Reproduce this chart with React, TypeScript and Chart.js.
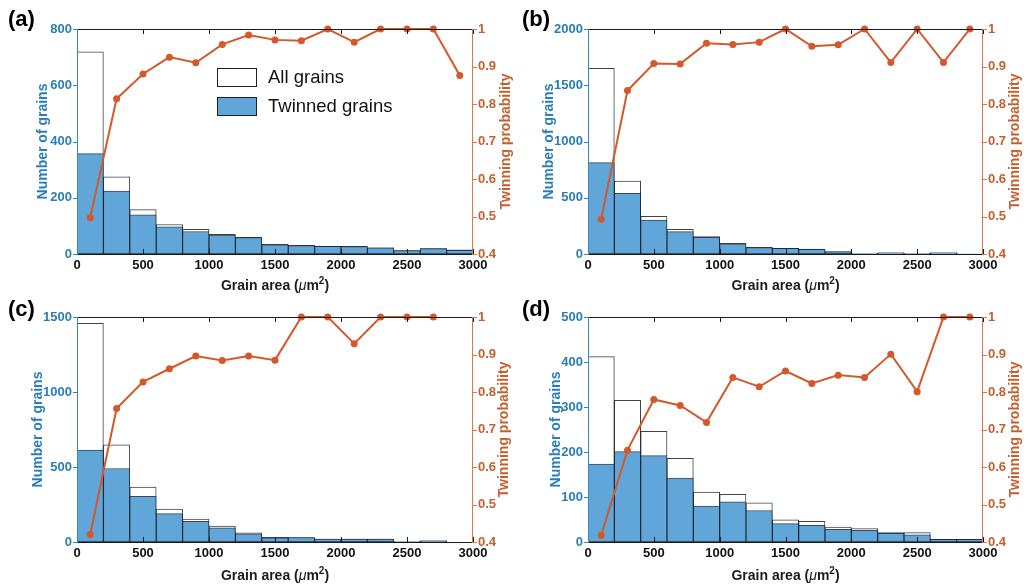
import React, { useEffect, useRef } from "react";
import { Chart, registerables } from "chart.js";

Chart.register(...registerables);
Chart.defaults.font.family = "'Liberation Sans', Arial, sans-serif";

// ---------- data ----------
const BIN_CENTERS = [100, 300, 500, 700, 900, 1100, 1300, 1500, 1700, 1900, 2100, 2300, 2500, 2700, 2900];

const A_ALL = [719, 274, 158, 105, 88, 70, 59, 34, 31, 27, 27, 22, 12, 19, 15];
const A_TWIN = [357, 224, 139, 97, 80, 67, 58, 33, 30, 27, 26, 22, 12, 19, 13];
const A_PROB = [0.497, 0.814, 0.88, 0.925, 0.91, 0.959, 0.984, 0.971, 0.969, 1, 0.965, 1, 1, 1, 0.876];

const B_ALL = [1650, 649, 335, 219, 154, 95, 59, 50, 44, 21, 3, 11, 3, 11, 2];
const B_TWIN = [812, 539, 302, 199, 148, 91, 57, 50, 42, 20, 3, 10, 3, 10, 2];
const B_PROB = [0.493, 0.836, 0.908, 0.907, 0.962, 0.959, 0.965, 1, 0.954, 0.958, 1, 0.911, 1, 0.911, 1];

const C_ALL = [1458, 647, 366, 219, 153, 106, 61, 31, 30, 19, 20, 19, 2, 7, 0];
const C_TWIN = [612, 490, 304, 189, 137, 94, 55, 27, 30, 19, 19, 19, 2, 7, 0];
const C_PROB = [0.42, 0.756, 0.827, 0.862, 0.896, 0.884, 0.896, 0.885, 1, 1, 0.929, 1, 1, 1, null];

const D_ALL = [412, 315, 246, 186, 111, 106, 87, 49, 46, 33, 30, 21, 21, 6, 6];
const D_TWIN = [173, 201, 192, 142, 80, 89, 70, 41, 37, 28, 26, 19, 16, 6, 6];
const D_PROB = [0.418, 0.645, 0.78, 0.764, 0.719, 0.839, 0.814, 0.856, 0.823, 0.845, 0.839, 0.901, 0.801, 1, 1];

const LEFT_MAX = [800, 2000, 1500, 500];
const LEFT_STEP = [200, 500, 500, 100];
const PANEL_LABELS = ["(a)", "(b)", "(c)", "(d)"];
const LEGEND_LABELS = ["All grains", "Twinned grains"];
const X_TITLE_PARTS = ["Grain area (", "\u03bc", "m", "2", ")"];
const LEFT_TITLE = "Number of grains";
const RIGHT_TITLE = "Twinning probability";

// ---------- styles ----------
const FONT = "'Liberation Sans', Arial, sans-serif";
const BLUE_TXT = "#2a7db6";
const BLUE_AXIS = "#3a86bb";
const ORANGE = "#d4582a";
const ORANGE_TXT = "#c4602e";
const ORANGE_AXIS = "#d27a52";
const BAR_BLUE = "rgb(96,166,216)";
const BAR_EDGE = "rgba(25,40,60,0.85)";
const ALL_EDGE = "rgba(20,20,20,0.8)";

type Layout = {
  ox: number; oy: number; w: number; h: number;
  l: number; r: number; t: number; b: number;
  leftTitleX: number; rightTitleX: number; bottomTitleY: number;
  labelX: number; labelY: number; legend: boolean;
};

const LAYOUTS: Layout[] = [
  { ox: 0, oy: 0, w: 520, h: 300, l: 77, r: 473, t: 29, b: 254, leftTitleX: 43, rightTitleX: 506, bottomTitleY: 285, labelX: 8, labelY: 20, legend: true },
  { ox: 510, oy: 0, w: 516, h: 300, l: 78, r: 473, t: 29, b: 254, leftTitleX: 39, rightTitleX: 505, bottomTitleY: 285, labelX: 12, labelY: 20, legend: false },
  { ox: 0, oy: 290, w: 520, h: 298, l: 77, r: 473, t: 27, b: 252, leftTitleX: 38, rightTitleX: 504, bottomTitleY: 285, labelX: 8, labelY: 20, legend: false },
  { ox: 510, oy: 290, w: 516, h: 298, l: 78, r: 473, t: 27, b: 252, leftTitleX: 46, rightTitleX: 505, bottomTitleY: 285, labelX: 12, labelY: 20, legend: false },
];

const SERIES = [
  { all: A_ALL, twin: A_TWIN, prob: A_PROB },
  { all: B_ALL, twin: B_TWIN, prob: B_PROB },
  { all: C_ALL, twin: C_TWIN, prob: C_PROB },
  { all: D_ALL, twin: D_TWIN, prob: D_PROB },
];

const framePlugin = {
  id: "frame",
  afterDatasetsDraw(chart: any) {
    const { ctx, chartArea } = chart;
    const { left, right, top, bottom } = chartArea;
    const xs = chart.scales.x;
    const yl = chart.scales.y;
    const yr = chart.scales.y1;
    ctx.save();
    ctx.lineWidth = 1;
    ctx.strokeStyle = "#1a1a1a";
    ctx.beginPath();
    xs.ticks.forEach((t: any) => {
      const px = Math.round(xs.getPixelForValue(t.value)) + 0.5;
      ctx.moveTo(px, bottom);
      ctx.lineTo(px, bottom - 5);
      ctx.moveTo(px, top);
      ctx.lineTo(px, top + 5);
    });
    ctx.stroke();
    ctx.beginPath();
    ctx.moveTo(left, top + 0.5);
    ctx.lineTo(right, top + 0.5);
    ctx.moveTo(left, bottom + 0.5);
    ctx.lineTo(right, bottom + 0.5);
    ctx.stroke();
    ctx.strokeStyle = BLUE_AXIS;
    ctx.beginPath();
    ctx.moveTo(left + 0.5, top);
    ctx.lineTo(left + 0.5, bottom + 1);
    yl.ticks.forEach((t: any) => {
      const py = Math.round(yl.getPixelForValue(t.value)) + 0.5;
      ctx.moveTo(left - 4, py);
      ctx.lineTo(left, py);
    });
    ctx.stroke();
    ctx.strokeStyle = ORANGE_AXIS;
    ctx.beginPath();
    ctx.moveTo(right - 0.5, top);
    ctx.lineTo(right - 0.5, bottom + 1);
    yr.ticks.forEach((t: any) => {
      const py = Math.round(yr.getPixelForValue(t.value)) + 0.5;
      ctx.moveTo(right, py);
      ctx.lineTo(right + 4, py);
    });
    ctx.stroke();
    ctx.restore();
  },
  afterDraw(chart: any, _args: any, opts: any) {
    const { ctx, chartArea } = chart;
    const { left, right, top, bottom } = chartArea;
    ctx.save();
    // panel label
    ctx.fillStyle = "#000";
    ctx.font = `bold 22px ${FONT}`;
    ctx.textBaseline = "middle";
    ctx.textAlign = "left";
    ctx.fillText(opts.label, opts.labelX, opts.labelY);

    // right axis title (reads bottom to top)
    ctx.save();
    ctx.translate(opts.rightTitleX, (top + bottom) / 2);
    ctx.rotate(-Math.PI / 2);
    ctx.font = `bold 14px ${FONT}`;
    ctx.fillStyle = ORANGE_TXT;
    ctx.textAlign = "center";
    ctx.textBaseline = "middle";
    ctx.fillText(RIGHT_TITLE, 0, 0);
    ctx.restore();

    // x axis title with italic mu and superscript 2
    const parts = [
      { t: X_TITLE_PARTS[0], f: `bold 14px ${FONT}`, dy: 0 },
      { t: X_TITLE_PARTS[1], f: `italic 14px ${FONT}`, dy: 0 },
      { t: X_TITLE_PARTS[2], f: `bold 14px ${FONT}`, dy: 0 },
      { t: X_TITLE_PARTS[3], f: `bold 10px ${FONT}`, dy: -6 },
      { t: X_TITLE_PARTS[4], f: `bold 14px ${FONT}`, dy: 0 },
    ];
    ctx.textAlign = "left";
    ctx.textBaseline = "alphabetic";
    ctx.fillStyle = "#1a1a1a";
    let total = 0;
    const widths = parts.map((p) => {
      ctx.font = p.f;
      const w = ctx.measureText(p.t).width;
      total += w;
      return w;
    });
    let x = (left + right) / 2 - total / 2;
    const baseY = opts.bottomTitleY + 5;
    parts.forEach((p, i) => {
      ctx.font = p.f;
      ctx.fillText(p.t, x, baseY + p.dy);
      x += widths[i];
    });

    if (opts.legend) {
      const bx = 217;
      const rows = [
        { y: 68, fill: "#ffffff", text: LEGEND_LABELS[0] },
        { y: 97, fill: BAR_BLUE, text: LEGEND_LABELS[1] },
      ];
      ctx.font = `18.5px ${FONT}`;
      ctx.textBaseline = "middle";
      rows.forEach((r) => {
        ctx.fillStyle = r.fill;
        ctx.fillRect(bx, r.y, 40, 19);
        ctx.strokeStyle = "#1a2030";
        ctx.lineWidth = 1;
        ctx.strokeRect(bx + 0.5, r.y + 0.5, 39, 18);
        ctx.fillStyle = "#111";
        ctx.fillText(r.text, 268, r.y + 10);
      });
    }
    ctx.restore();
  },
};

function Panel({ idx }: { idx: number }) {
  const ref = useRef<HTMLCanvasElement | null>(null);
  const L = LAYOUTS[idx];
  const S = SERIES[idx];
  useEffect(() => {
    if (!ref.current) return;
    const tickFont = { size: 13, weight: "bold" as const };
    const titleFont = { size: 14, weight: "bold" as const };
    const half = (14 * 1.2) / 2;
    const chart = new Chart(ref.current, {
      type: "bar",
      data: {
        datasets: [
          {
            type: "line" as const,
            label: RIGHT_TITLE,
            data: BIN_CENTERS.map((x, i) => ({ x, y: S.prob[i] })),
            yAxisID: "y1",
            borderColor: ORANGE,
            backgroundColor: ORANGE,
            borderWidth: 2,
            pointRadius: 3.5,
            pointBorderWidth: 0,
            pointBackgroundColor: ORANGE,
            order: 0,
            clip: false,
          } as any,
          {
            label: LEGEND_LABELS[1],
            data: BIN_CENTERS.map((x, i) => ({ x, y: S.twin[i] })),
            yAxisID: "y",
            backgroundColor: BAR_BLUE,
            borderColor: BAR_EDGE,
            borderWidth: 1,
            borderSkipped: false,
            grouped: false,
            barPercentage: 1,
            categoryPercentage: 1,
            order: 1,
          } as any,
          {
            label: LEGEND_LABELS[0],
            data: BIN_CENTERS.map((x, i) => ({ x, y: S.all[i] })),
            yAxisID: "y",
            backgroundColor: "#ffffff",
            borderColor: ALL_EDGE,
            borderWidth: 1,
            borderSkipped: false,
            grouped: false,
            barPercentage: 1,
            categoryPercentage: 1,
            order: 2,
          } as any,
        ],
      },
      options: {
        animation: false,
        responsive: false,
        events: [],
        layout: { padding: { top: L.t, left: 0, right: 0, bottom: 0 } },
        plugins: {
          legend: { display: false },
          tooltip: { enabled: false },
          frame: {
            label: PANEL_LABELS[idx],
            labelX: L.labelX,
            labelY: L.labelY,
            legend: L.legend,
            rightTitleX: L.rightTitleX,
            bottomTitleY: L.bottomTitleY,
          },
        } as any,
        scales: {
          x: {
            type: "linear",
            min: 0,
            max: 3000,
            offset: false,
            ticks: {
              stepSize: 500,
              color: "#111",
              font: tickFont,
              padding: 4,
              maxRotation: 0,
              autoSkip: false,
              callback: (v: any) => String(v),
            },
            grid: { display: false, drawTicks: false, offset: false },
            border: { display: false },
            title: { display: false },
            afterFit: (s: any) => { s.height = L.h - L.b; },
          },
          y: {
            type: "linear",
            position: "left",
            min: 0,
            max: LEFT_MAX[idx],
            beginAtZero: false,
            ticks: {
              stepSize: LEFT_STEP[idx],
              color: BLUE_TXT,
              font: tickFont,
              padding: 5,
              callback: (v: any) => String(v),
            },
            grid: { display: false, drawTicks: false },
            border: { display: false },
            title: {
              display: true,
              text: LEFT_TITLE,
              color: BLUE_TXT,
              font: titleFont,
              padding: { top: L.leftTitleX - half, bottom: 0 },
            },
            afterFit: (s: any) => { s.width = L.l; },
          },
          y1: {
            type: "linear",
            position: "right",
            min: 0.4,
            max: 1,
            beginAtZero: false,
            ticks: {
              stepSize: 0.1,
              color: ORANGE_TXT,
              font: tickFont,
              padding: 5,
              callback: (v: any) => String(Math.round(Number(v) * 10) / 10),
            },
            grid: { display: false, drawTicks: false },
            border: { display: false },
            title: { display: false },
            afterFit: (s: any) => { s.width = L.w - L.r; },
          },
        } as any,
      },
      plugins: [framePlugin as any],
    });
    return () => chart.destroy();
  }, [idx]);
  return (
    <canvas
      ref={ref}
      width={L.w}
      height={L.h}
      style={{ position: "absolute", left: L.ox, top: L.oy, width: L.w, height: L.h }}
    />
  );
}

export default function App() {
  useEffect(() => {
    document.body.style.margin = "0";
    document.body.style.background = "#ffffff";
  }, []);
  return (
    <div style={{ position: "relative", width: 1026, height: 588, background: "#fff", overflow: "hidden" }}>
      {[0, 1, 2, 3].map((i) => (
        <Panel key={i} idx={i} />
      ))}
    </div>
  );
}
